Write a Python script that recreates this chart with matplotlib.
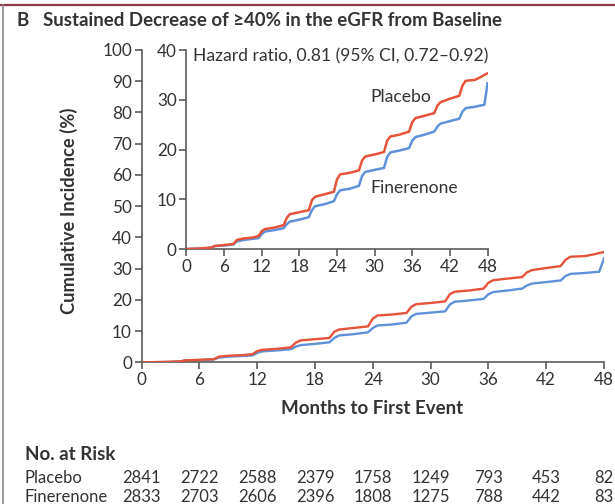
import matplotlib
matplotlib.use("Agg")
import matplotlib.pyplot as plt
import matplotlib.transforms as mtransforms
from matplotlib.lines import Line2D

plt.rcParams['font.family'] = ['Lato', 'DejaVu Sans']

# Cumulative incidence (%) at each month
placebo_t = [0, 2, 4, 4.5, 6, 7.5, 8, 9, 10.5, 11.5, 12, 12.5, 14, 15.5, 16, 16.5, 18, 19.5,
             20, 20.5, 22, 23.5, 24, 24.5, 26, 27.5, 28, 28.5, 30, 31.5, 32, 32.5, 34, 35.5,
             36, 36.5, 38, 39.5, 40, 40.5, 42, 43.5, 44, 44.5, 46, 47, 47.5, 48]
placebo_y = [0, 0.1, 0.3, 0.6, 0.8, 1.0, 1.8, 2.1, 2.3, 2.6, 3.6, 4.0, 4.3, 4.8, 6.3, 7.0, 7.4, 7.8,
             9.8, 10.5, 11.0, 11.5, 14.0, 15.0, 15.3, 15.8, 17.8, 18.6, 19.0, 19.5, 21.8, 22.6, 23.0, 23.6,
             25.5, 26.3, 26.8, 27.3, 28.8, 29.5, 30.2, 30.8, 32.8, 33.8, 34.0, 34.6, 35.0, 35.3]

finerenone_t = [0, 3, 4, 4.5, 6, 7.5, 8, 9, 11.5, 12, 12.5, 14, 15.5, 16, 16.5, 18, 19.5,
                20, 20.5, 22, 23.5, 24, 24.5, 26, 27.5, 28, 28.5, 30, 31.5, 32, 32.5, 34, 35.5,
                36, 36.5, 38, 39.5, 40, 40.5, 42, 43.5, 44, 44.5, 46, 47.5, 47.8, 48]
finerenone_y = [0, 0.1, 0.3, 0.6, 0.7, 0.9, 1.5, 1.8, 2.2, 3.0, 3.5, 3.8, 4.2, 5.0, 5.5, 5.9, 6.4,
                7.8, 8.6, 9.0, 9.6, 11.0, 11.8, 12.1, 12.7, 14.7, 15.5, 15.9, 16.3, 18.5, 19.4, 19.8, 20.3,
                21.8, 22.5, 23.0, 23.6, 24.6, 25.2, 25.7, 26.2, 27.6, 28.3, 28.6, 29.0, 31.5, 33.3]

risk_months = [0, 6, 12, 18, 24, 30, 36, 42, 48]
risk_placebo = [2841, 2722, 2588, 2379, 1758, 1249, 793, 453, 82]
risk_finerenone = [2833, 2703, 2606, 2396, 1808, 1275, 788, 442, 83]

RED = '#e5533a'
BLUE = '#5f91d9'
TXT = '#333333'
AX = '#5a5a5a'

fig = plt.figure(figsize=(6.15, 5.04), dpi=100)

# Panel frame: maroon rule on top, grey rule on the left
fig.add_artist(Line2D([0, 1], [1 - 4.5 / 504] * 2, transform=fig.transFigure,
                      color='#8e3644', lw=1.6))
fig.add_artist(Line2D([2.5 / 615] * 2, [0, 1 - 4.5 / 504], transform=fig.transFigure,
                      color='#8a8a8a', lw=1.2))

fig.text(16 / 615, 1 - 20 / 504, 'B', fontsize=13.4, fontweight='bold', color=TXT, va='center')
fig.text(43 / 615, 1 - 20 / 504, 'Sustained Decrease of \u226540% in the eGFR from Baseline',
         fontsize=13.4, fontweight='bold', color=TXT, va='center')


def style_axes(ax, fs):
    for s in ('top', 'right'):
        ax.spines[s].set_visible(False)
    for s in ('left', 'bottom'):
        ax.spines[s].set_color(AX)
        ax.spines[s].set_linewidth(1.2)
    ax.tick_params(direction='out', length=5, width=1.2, color=AX,
                   labelcolor=TXT, labelsize=fs, pad=2)


# Main axes
ax = fig.add_axes([141.7 / 615, 1 - 362.3 / 504, 462.3 / 615, 312.3 / 504])
ax.plot(placebo_t, placebo_y, color=RED, lw=1.7, zorder=3)
ax.plot(finerenone_t, finerenone_y, color=BLUE, lw=1.7, zorder=2)
ax.set_xlim(0, 48)
ax.set_ylim(0, 100)
ax.set_xticks(range(0, 49, 6))
ax.set_yticks(range(0, 101, 10))
style_axes(ax, 12.3)
ax.set_xlabel('Months to First Event', fontsize=13.5, fontweight='bold', color=TXT)
ax.set_ylabel('Cumulative Incidence (%)', fontsize=13.2, fontweight='bold', color=TXT)
ax.xaxis.set_label_coords(0.498, -0.122)
ax.yaxis.set_label_coords(-0.138, 0.484)
ax.patch.set_alpha(0)

# Inset with expanded y scale
axi = fig.add_axes([186.5 / 615, 1 - 249 / 504, 301 / 615, 199 / 504])
axi.plot(placebo_t, placebo_y, color=RED, lw=1.8, zorder=3)
axi.plot(finerenone_t, finerenone_y, color=BLUE, lw=1.8, zorder=2)
axi.set_xlim(0, 48)
axi.set_ylim(0, 40)
axi.set_xticks(range(0, 49, 6))
axi.set_yticks(range(0, 41, 10))
style_axes(axi, 12.3)
axi.text(1.0, 38.8, 'Hazard ratio, 0.81 (95% CI, 0.72\u20130.92)', fontsize=12.6, color=TXT,
         va='center', ha='left')
axi.text(29.3, 30.6, 'Placebo', fontsize=12.6, color=TXT, va='center', ha='left')
axi.text(29.3, 12.3, 'Finerenone', fontsize=12.6, color=TXT, va='center', ha='left')

# Numbers at risk under the x axis
fig.text(25 / 615, 1 - 454 / 504, 'No. at Risk', fontsize=13.5, fontweight='bold', color=TXT,
         va='center')
trans = mtransforms.blended_transform_factory(ax.transData, fig.transFigure)
for label, counts, ypx in (('Placebo', risk_placebo, 478), ('Finerenone', risk_finerenone, 497)):
    fig.text(25 / 615, 1 - ypx / 504, label, fontsize=12, color=TXT, va='center')
    for m, n in zip(risk_months, counts):
        ax.text(m, 1 - ypx / 504, str(n), transform=trans, fontsize=12, color=TXT,
                ha='center', va='center', clip_on=False)

fig.savefig('out.png', dpi=100, facecolor='white')
